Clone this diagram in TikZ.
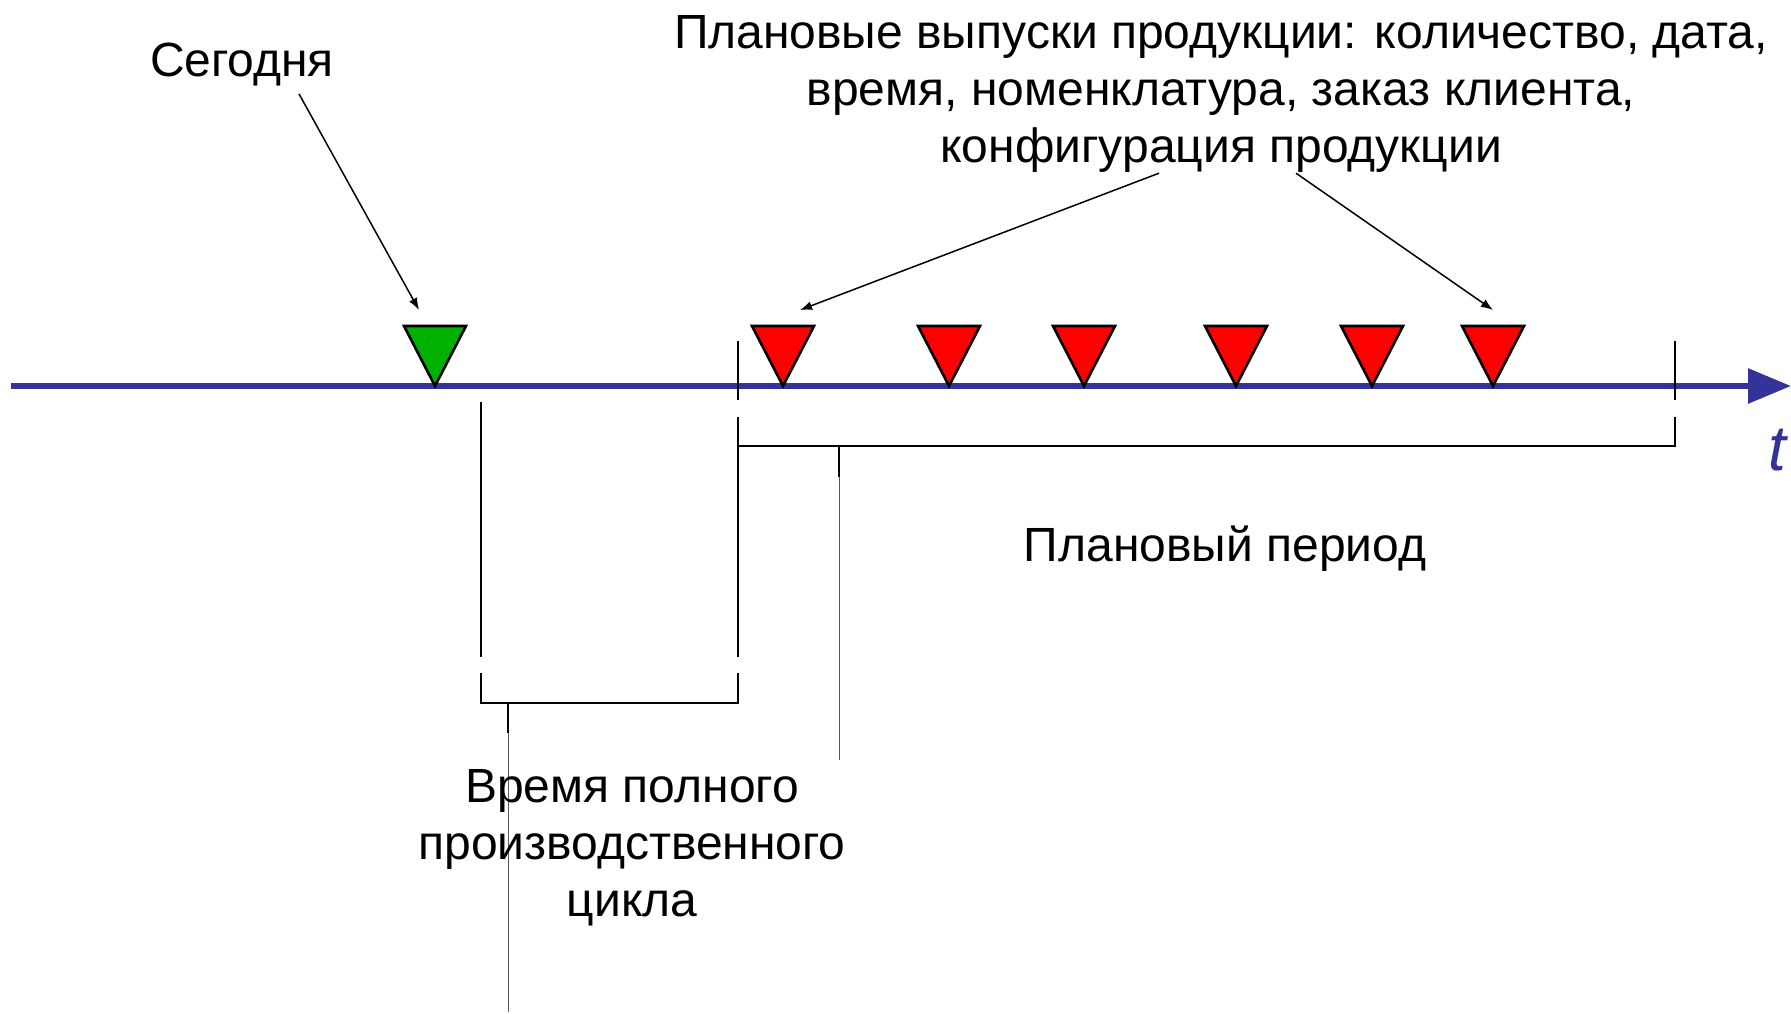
\documentclass[tikz,border=0pt]{standalone}
\usepackage{fontspec}
\setmainfont{Liberation Sans}
\usetikzlibrary{arrows.meta}
\definecolor{AxisBlue}{RGB}{51,51,153}
\definecolor{TodayGreen}{RGB}{0,178,0}
\definecolor{ReleaseRed}{RGB}{255,0,0}

\begin{document}
\begin{tikzpicture}[x=0.5pt,y=-0.5pt,
  lbl/.style={font=\fontsize{24}{28.6}\selectfont,inner sep=0pt,align=center},
  ptr/.style={line width=0.75pt,-{Latex[length=6pt,width=4.5pt]}},
  brk/.style={line width=1pt},
  lead/.style={line width=0.45pt,black!65},
  tri/.style={draw=black,line width=1.3pt}]
  \useasboundingbox (0,0) rectangle (1791,1013);
  \draw[AxisBlue,line width=3pt,-{Triangle[length=21.5pt,width=17pt]}] (11,386) -- (1791,386);
  \node[AxisBlue,font=\fontsize{32}{36}\selectfont\itshape,inner sep=0pt,anchor=base west] (tlbl) at (1768,470) {t};
  \draw[brk] (738,341) -- (738,400) (738,417) -- (738,446) -| (1675,417) (1675,400) -- (1675,341);
  \draw[brk] (481,402) -- (481,657) (481,673) |- (738,703) -- (738,673) (738,657) -- (738,446);
  \draw[brk] (839,446) -- (839,477);
  \draw[lead] (839,477) -- (839,760);
  \draw[brk] (508,703) -- (508,733);
  \draw[lead] (508,733) -- (508,1012);
  \draw[tri,fill=TodayGreen] (435,386) -- ++(-31,-60) -- ++(62,0) -- cycle;
  \foreach \x in {783,949,1084,1236,1372,1493}
    \draw[tri,fill=ReleaseRed] (\x,386) -- ++(-31,-60) -- ++(62,0) -- cycle;
  \coordinate (todayTip) at (419,310);
  \coordinate (firstTip) at (800,310);
  \coordinate (lastTip) at (1493,310);
  \node[lbl] (today) at (242,65) {Сегодня};
  \node[lbl,anchor=north] (releases) at (1221,15)
    {Плановые выпуски продукции: количество, дата,\\время, номенклатура, заказ клиента,\\конфигурация продукции};
  \node[lbl,anchor=base] (period) at (1225,561) {Плановый период};
  \node[lbl,anchor=north] (cycle) at (632,769) {Время полного\\производственного\\цикла};
  \draw[ptr] ([shift={(57,7)}]today.south) -- (todayTip);
  \draw[ptr] ([shift={(-62,0)}]releases.south) -- (firstTip);
  \draw[ptr] ([shift={(75,0)}]releases.south) -- (lastTip);
\end{tikzpicture}
\end{document}
